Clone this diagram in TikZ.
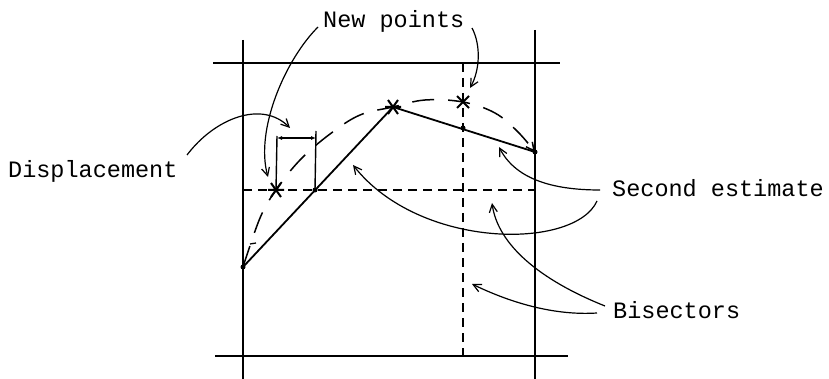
\documentclass[tikz,border=0pt]{standalone}
\usepackage{fontspec}
\newfontfamily\tw{Liberation Mono}
\usetikzlibrary{arrows.meta}
\begin{document}
\begin{tikzpicture}[x=1pt,y=-1pt,
  grid/.style={line width=1.6pt},
  bis/.style={line width=1.4pt, dash pattern=on 9pt off 6pt},
  est/.style={line width=1.8pt},
  curv/.style={line width=1.5pt, dash pattern=on 22pt off 14pt},
  lbl/.style={inner sep=0pt, anchor=base west, font=\tw\fontsize{23.5}{28}\selectfont},
  conn/.style={line width=1.2pt, -{Straight Barb[length=8pt,width=8pt]}},
  dim/.style={line width=1.2pt, {Latex[length=5pt,width=4pt]}-{Latex[length=5pt,width=4pt]}},
  dot/.style={circle, fill, inner sep=0pt, minimum size=5pt},
  astk/.pic={\draw[line width=2pt] (-8,0)--(8,0) (-5,-7)--(5,7) (-5,7)--(5,-7);},
  xmark/.pic={\draw[line width=2pt] (-6,-6)--(6,6) (-6,6)--(6,-6);}]
\useasboundingbox (0,0) rectangle (829,379);

% frame lines
\coordinate (L1) at (243,40);  \coordinate (L2) at (243,379);
\coordinate (R1) at (535,30);  \coordinate (R2) at (535,379);
\coordinate (T1) at (213,63);  \coordinate (T2) at (560,63);
\coordinate (B1) at (215,356); \coordinate (B2) at (568,356);
\draw[grid] (L1) -- (L2);
\draw[grid] (R1) -- (R2);
\draw[grid] (T1) -- (T2);
\draw[grid] (B1) -- (B2);

% bisectors
\coordinate (H1) at (243,190); \coordinate (H2) at (535,190);
\coordinate (V1) at (463,63);  \coordinate (V2) at (463,356);
\draw[bis] (H1) -- (H2);
\draw[bis] (V1) -- (V2);

% points
\node[dot] (A) at (243,267) {};
\node[dot] (B) at (315,190) {};
\node[dot] (C) at (463,128) {};
\node[dot] (D) at (535,152) {};
\coordinate (P) at (393,107);
\coordinate (S1) at (276,190);
\coordinate (S2) at (463,102);

% first estimate (solid)
\draw[est] (A.center) -- (P) -- (D.center);

% second estimate (dashed curve)
\draw[curv, -{Straight Barb[length=8pt,width=8pt]}] plot[smooth, tension=0.6] coordinates
  {(A.center) (260,218) (S1) (300,160) (330,134) (360,115) (P) (425,100) (S2) (495,113) (518,132) (D.center)};
\draw[line width=1.3pt] (250,244) -- (256,243);

% new points
\pic at (S1) {astk};
\pic at (P) {astk};
\pic at (S2) {xmark};

% displacement
\coordinate (d1) at (277,136); \coordinate (d2) at (316,131);
\coordinate (e1) at (277,138); \coordinate (e2) at (316,138);
\draw[line width=1.4pt] (d1) -- (S1);
\draw[line width=1.4pt] (d2) -- (B.center);
\draw[dim] (e1) -- (e2);

% labels
\node[lbl] (np) at (323,28) {New points};
\node[lbl] (dp) at (8,178) {Displacement};
\node[lbl] (se) at (612,197) {Second estimate};
\node[lbl] (bs) at (613,318) {Bisectors};

% label connectors
\coordinate (np1) at (318,27); \coordinate (np2) at (472,28);
\draw[conn] (np1) .. controls (285,60) and (255,130) .. (268,177);
\draw[conn] (np2) .. controls (481,45) and (480,70) .. (470,88);
\coordinate (dp1) at (187,155);
\draw[conn] (dp1) .. controls (215,118) and (262,100) .. (290,128);
\coordinate (se1) at (600,190); \coordinate (se2) at (597,201);
\draw[conn] (se1) .. controls (550,190) and (515,178) .. (499,147);
\draw[conn] (se2) .. controls (575,250) and (420,250) .. (353,165);
\coordinate (bs1) at (605,306); \coordinate (bs2) at (597,313);
\draw[conn] (bs1) .. controls (540,280) and (498,245) .. (492,203);
\draw[conn] (bs2) .. controls (550,316) and (505,300) .. (472,284);
\end{tikzpicture}
\end{document}
